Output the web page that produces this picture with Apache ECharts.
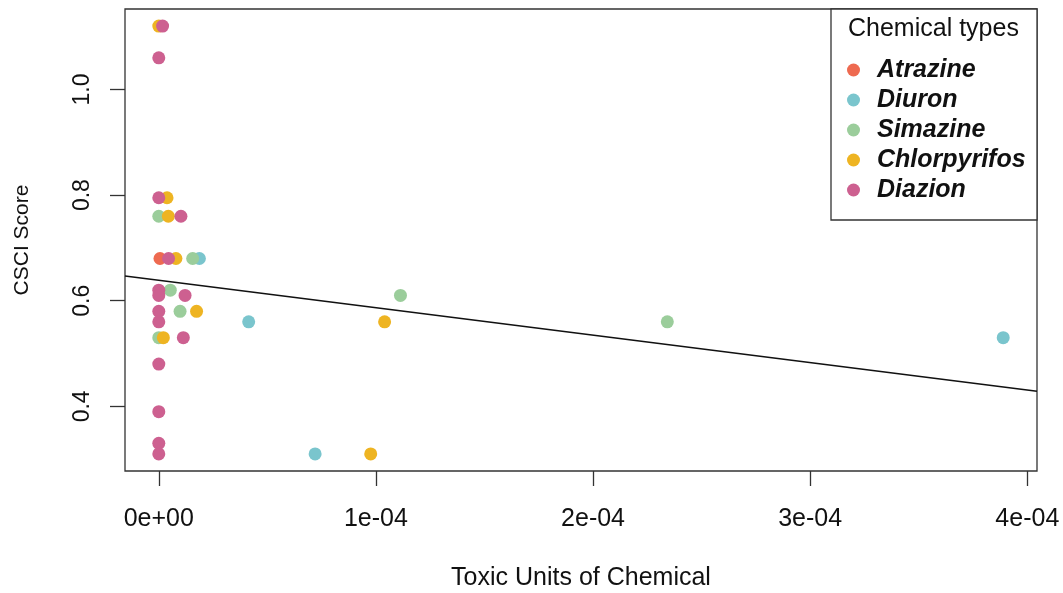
<!DOCTYPE html>
<html>
<head>
<meta charset="utf-8">
<script src="https://cdn.jsdelivr.net/npm/echarts@6/dist/echarts.min.js"></script>
<style>
html,body{margin:0;padding:0;background:#fff;}
#chart{width:1063px;height:593px;}
</style>
</head>
<body>
<div id="chart"></div>
<script>
// ---- data ----
const seriesNames = ['Atrazine', 'Diuron', 'Simazine', 'Chlorpyrifos', 'Diazion'];
const seriesColors = ['#EE6A50', '#7AC5CD', '#9BCD9B', '#EEB422', '#CD6090'];

const atrazine = [[0.55e-6, 0.68]];
const diuron = [[1.87e-5, 0.68], [4.14e-5, 0.56], [7.2e-5, 0.31], [3.889e-4, 0.53]];
const simazine = [[0, 0.76], [1.56e-5, 0.68], [5.3e-6, 0.62], [9.8e-6, 0.58], [0, 0.53], [1.113e-4, 0.61], [2.342e-4, 0.56]];
const chlorpyrifos = [[0, 1.12], [3.8e-6, 0.795], [4.4e-6, 0.76], [7.9e-6, 0.68], [1.74e-5, 0.58], [2.1e-6, 0.53], [1.04e-4, 0.56], [9.76e-5, 0.31]];
const diazion = [[1.75e-6, 1.12], [0, 1.06], [0, 0.795], [1.02e-5, 0.76], [4.5e-6, 0.68], [0, 0.62], [0, 0.61], [1.21e-5, 0.61], [0, 0.58], [0, 0.56], [1.13e-5, 0.53], [0, 0.48], [0, 0.39], [0, 0.33], [0, 0.31]];

// fitted regression line, endpoints (at plot edges)
const fitLine = [[-1.556e-5, 0.647], [4.0446e-4, 0.4284]];

const xTickValues = [0, 1e-4, 2e-4, 3e-4, 4e-4];
const xTickLabels = ['0e+00', '1e-04', '2e-04', '3e-04', '4e-04'];
const yTickValues = [0.4, 0.6, 0.8, 1.0];
const yTickLabels = ['0.4', '0.6', '0.8', '1.0'];

const xRange = [-1.556e-5, 4.0446e-4];
const yRange = [0.2776, 1.1524];

const xTitle = 'Toxic Units of Chemical';
const yTitle = 'CSCI Score';
const legendTitle = 'Chemical types';

// ---- chart ----
const FONT = "'Liberation Sans', Arial, Helvetica, sans-serif";
const seriesData = [atrazine, diuron, simazine, chlorpyrifos, diazion];

function nearestLabel(values, labels, v) {
  let best = 0, bd = Infinity;
  values.forEach((t, i) => { const d = Math.abs(t - v); if (d < bd) { bd = d; best = i; } });
  return labels[best];
}

const chart = echarts.init(document.getElementById('chart'), null, {renderer: 'canvas'});

const scatterSeries = seriesNames.map((name, i) => ({
  name: name,
  type: 'scatter',
  data: seriesData[i],
  symbol: 'circle',
  symbolSize: 13,
  itemStyle: {color: seriesColors[i], opacity: 1},
  emphasis: {disabled: true},
  z: 3 + i
}));

const option = {
  animation: false,
  backgroundColor: '#ffffff',
  textStyle: {fontFamily: FONT},
  grid: {
    left: 125, right: 26, top: 9, bottom: 122,
    show: true, borderColor: '#333', borderWidth: 1.3,
    backgroundColor: 'transparent',
    outerBoundsMode: 'none'
  },
  title: {
    text: legendTitle,
    left: 848, top: 17, padding: 0,
    textStyle: {fontFamily: FONT, fontSize: 25, fontWeight: 'normal', color: '#111'}
  },
  legend: {
    data: seriesNames.map((n) => ({name: n, icon: 'circle'})),
    orient: 'vertical',
    left: 847, top: 55, padding: 0,
    itemGap: 0,
    itemWidth: 13, itemHeight: 13,
    selectedMode: false,
    textStyle: {
      fontFamily: FONT, fontSize: 25, fontWeight: 'bold', fontStyle: 'italic',
      color: '#111', lineHeight: 30, padding: [0, 0, 0, 12]
    }
  },
  graphic: [{
    type: 'rect',
    shape: {x: 831, y: 9, width: 206, height: 211},
    style: {fill: '#fff', stroke: '#333', lineWidth: 1.3},
    z: 0, silent: true
  }],
  xAxis: {
    type: 'value',
    min: xRange[0], max: xRange[1],
    name: xTitle, nameLocation: 'middle', nameGap: 95,
    nameTextStyle: {fontFamily: FONT, fontSize: 25, color: '#111'},
    axisLine: {show: false, onZero: false},
    splitLine: {show: false},
    axisTick: {show: true, inside: false, length: 15, customValues: xTickValues,
      lineStyle: {color: '#333', width: 1.3}},
    axisLabel: {show: true, customValues: xTickValues, margin: 36,
      fontFamily: FONT, fontSize: 25, color: '#111',
      formatter: (v) => nearestLabel(xTickValues, xTickLabels, v)}
  },
  yAxis: {
    type: 'value',
    min: yRange[0], max: yRange[1],
    name: yTitle, nameLocation: 'middle', nameGap: 92,
    nameTextStyle: {fontFamily: FONT, fontSize: 21, color: '#111'},
    axisLine: {show: false, onZero: false},
    splitLine: {show: false},
    axisTick: {show: true, inside: false, length: 15, customValues: yTickValues,
      lineStyle: {color: '#333', width: 1.3}},
    axisLabel: {show: true, customValues: yTickValues, margin: 31, rotate: 90,
      fontFamily: FONT, fontSize: 23, color: '#111',
      formatter: (v) => nearestLabel(yTickValues, yTickLabels, v)}
  },
  series: [
    {
      name: 'fit',
      type: 'line',
      data: fitLine,
      symbol: 'none',
      lineStyle: {color: '#111', width: 1.5},
      emphasis: {disabled: true},
      silent: true,
      z: 2
    }
  ].concat(scatterSeries)
};

chart.setOption(option);
</script>
</body>
</html>
